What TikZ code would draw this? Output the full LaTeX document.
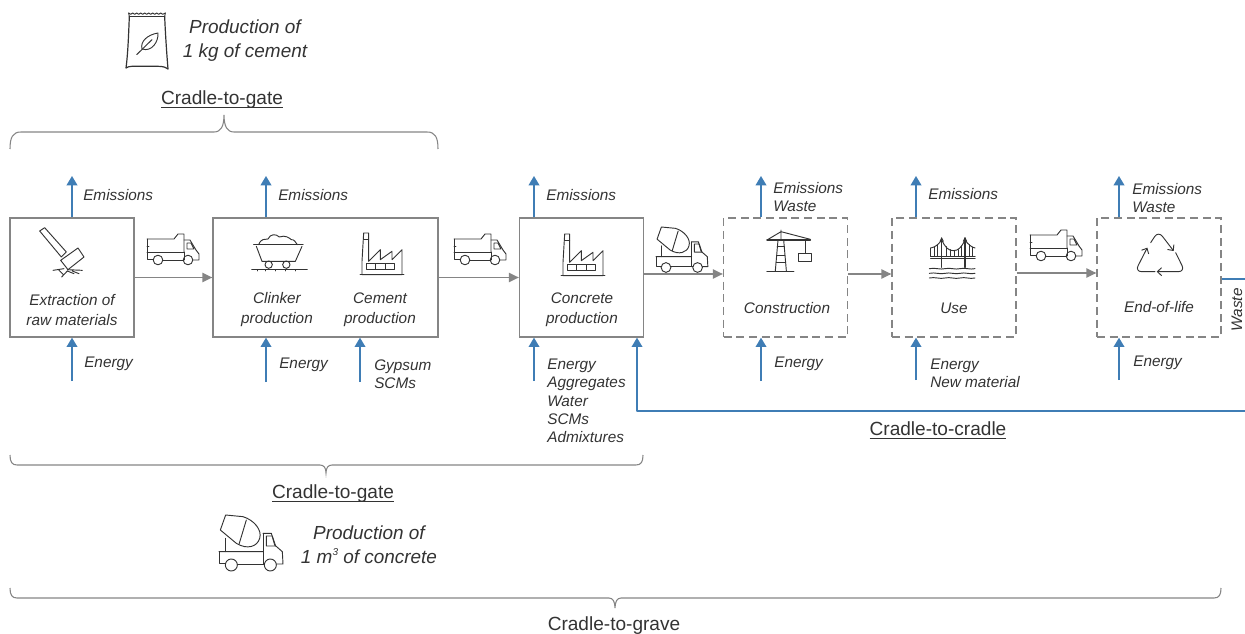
\documentclass[tikz,border=0pt]{standalone}
\usepackage{fontspec}
\setmainfont{Liberation Sans}
\usetikzlibrary{arrows.meta}
\definecolor{boxgray}{HTML}{858585}
\definecolor{flowblue}{HTML}{3F7DB5}
\definecolor{ink}{HTML}{333333}
\newcommand\ulabel[1]{\setbox0\hbox{#1}\rlap{\rule[-2.4pt]{\wd0}{0.6pt}}\box0}
\newcommand\supthree{\raisebox{0.45em}{\fontsize{7.5}{8}\selectfont 3}}
\tikzset{
  x=0.75pt,y=-0.75pt,
  procbox/.style={draw=boxgray,line width=1pt,minimum width=0pt,minimum height=0pt,inner sep=0pt,fill=none},
  dashbox/.style={procbox,dash pattern=on 6pt off 3.5pt},
  flow/.style={draw=boxgray,line width=1pt,-{Triangle[length=7.5pt,width=7pt]}},
  bluearrow/.style={draw=flowblue,line width=1.2pt,-{Triangle[length=7pt,width=8pt]}},
  side/.style={font=\itshape\fontsize{11.5}{13.8}\selectfont,text=ink,anchor=west,align=left,inner sep=0pt},
  inbox/.style={font=\itshape\fontsize{11.5}{15}\selectfont,text=ink,align=center,inner sep=0pt},
  big/.style={font=\itshape\fontsize{14.2}{18}\selectfont,text=ink,align=center,inner sep=0pt},
  scopelabel/.style={font=\fontsize{14.3}{16}\selectfont,text=ink,inner sep=0pt},
  brace/.style={draw=boxgray,line width=0.8pt},
  icon/.style={draw=ink,line width=0.7pt,line join=round,line cap=round},
  dumptruck/.pic={
    \draw[icon] (0,5)--(27,5)--(31,0)--(37,0)--(37,18);
    \draw[icon] (0,5)--(0,25)--(6,25);
    \draw[icon] (0,12)--(2,12) (0,18)--(37,18);
    \draw[icon] (37,6)--(43,6)--(49,16)--(52,20)--(52,26)--(46,26);
    \draw[icon] (37,18)--(37,26);
    \draw[icon] (40,9)--(44,9)--(47,15)--(40,15)--cycle;
    \draw[icon] (16,26)--(36,26);
    \draw[icon] (11,26) circle[radius=4.8];
    \draw[icon] (41,26) circle[radius=4.8];
  },
  mixer/.pic={
    \draw[icon] (4,45)--(20,0)--(72,5) .. controls (105,15) and (130,45) .. (122,70) .. controls (115,95) and (85,105) .. (52,85)--cycle;
    \draw[icon] (82,15)--(60,88);
    \draw[icon] (20,70)--(20,110);
    \draw[icon] (0,110)--(132,110) (132,55)--(157,55)--(167,90)--(190,110)--(192,147)--(172,147);
    \draw[icon] (132,55)--(132,147);
    \draw[icon] (0,110)--(0,145)--(20,145);
    \draw[icon] (55,147)--(136,147);
    \draw[icon] (142,63)--(160,63)--(170,93)--(142,93)--cycle;
    \draw[icon] (37,150) circle[radius=18];
    \draw[icon] (154,150) circle[radius=18];
  },
  factory/.pic={
    \draw[icon] (5,0)--(20,0)--(20,85)--(55,50)--(55,80)--(90,55)--(90,80)--(120,50)--(120,125)--(0,125)--(0,85)--cycle;
    \draw[icon] (5,20)--(20,20);
    \draw[icon] (13,92) rectangle (98,108);
    \draw[icon] (40,92)--(40,108) (70,92)--(70,108);
    \draw[icon] (-6,125)--(126,125);
  },
  hammer/.pic={
    \draw[icon] (2,12)--(17,2)--(82,75)--(67,90)--cycle;
    \draw[icon] (65,100)--(117,63)--(135,90)--(87,128)--cycle;
    \draw[icon] (42,130)--(75,125) (85,128)--(130,130) (68,150)--(85,132)--(105,140) (60,130)--(72,142) (100,132)--(120,140);
  },
  cart/.pic={
    \draw[icon,line width=1pt] (5,35)--(153,35);
    \draw[icon] (13,40)--(30,85)--(130,85)--(150,40);
    \draw[icon] (20,35) .. controls (28,15) and (38,20) .. (48,18) .. controls (55,2) and (72,2) .. (82,12) .. controls (100,5) and (112,15) .. (118,20) .. controls (125,18) and (132,28) .. (136,35);
    \draw[icon] (50,95) circle[radius=11];
    \draw[icon] (103,95) circle[radius=11];
    \draw[icon,line width=1.2pt] (0,110)--(165,110);
    \draw[icon] (15,110)--(15,114) (40,110)--(40,114) (70,110)--(70,114) (100,110)--(100,114) (130,110)--(130,114);
  },
  crane/.pic={
    \draw[icon,line width=1pt] (0,30)--(130,30);
    \draw[icon] (0,30)--(42,5)--(130,28) (42,0)--(42,30);
    \draw[icon] (33,30)--(25,122) (50,30)--(58,122);
    \draw[icon] (31,50)--(52,50) (29,75)--(54,75) (27,98)--(56,98);
    \draw[icon,line width=1.1pt] (0,125)--(80,125);
    \draw[icon] (115,30)--(115,70);
    \draw[icon] (95,70) rectangle (132,93);
  },
  bridge/.pic={
    \draw[icon,line width=1.1pt] (35,0)--(35,88) (105,0)--(105,88);
    \draw[icon] (30,10)--(35,0)--(40,10) (100,10)--(105,0)--(110,10);
    \draw[icon,line width=1pt] (2,55)--(135,55) (2,62)--(135,62);
    \draw[icon] (2,30) .. controls (15,28) and (28,18) .. (35,5) .. controls (45,28) and (55,38) .. (70,38) .. controls (85,38) and (95,28) .. (105,5) .. controls (112,18) and (125,28) .. (135,30);
    \draw[icon] (2,30)--(2,55) (12,27)--(12,55) (22,20)--(22,55) (48,26)--(48,55) (60,35)--(60,55) (72,38)--(72,55) (84,35)--(84,55) (94,24)--(94,55) (118,20)--(118,55) (128,27)--(128,55);
    \foreach \wy in {92,106,120} {
      \draw[icon] (-2,\wy) .. controls (15,\wy-4) and (30,\wy+4) .. (45,\wy) .. controls (60,\wy-4) and (75,\wy+4) .. (90,\wy) .. controls (105,\wy-4) and (120,\wy+4) .. (135,\wy);
    }
  },
  recycle/.pic={
    \begin{scope}[rounded corners=5pt]
      \draw[icon,-{Straight Barb[length=3.2pt,width=6pt]}] (60,122)--(0,122)--(37,50);
      \draw[icon,-{Straight Barb[length=3.2pt,width=6pt]}] (47,35)--(70,0)--(116,60);
      \draw[icon,-{Straight Barb[length=3.2pt,width=6pt]}] (122,65)--(150,122)--(65,122);
    \end{scope}
  },
  bag/.pic={
    \draw[icon,line width=0.9pt] (10,10) .. controls (8,60) and (6,120) .. (0,165) .. controls (10,158) and (20,160) .. (60,160) .. controls (95,160) and (115,158) .. (126,168) .. controls (122,120) and (118,60) .. (116,10);
    \draw[icon] (8,0)--(14,4)--(20,0)--(26,4)--(32,0)--(38,4)--(44,0)--(50,4)--(56,0)--(62,4)--(68,0)--(74,4)--(80,0)--(86,4)--(92,0)--(98,4)--(104,0)--(110,4)--(118,0);
    \draw[icon] (8,0)--(10,10) (118,0)--(116,10);
    \draw[icon] (10,11)--(116,11);
    \draw[icon] (48,108) .. controls (42,85) and (65,65) .. (96,60) .. controls (98,85) and (78,118) .. (48,108)--cycle;
    \draw[icon] (32,125)--(78,80);
  },
}
\begin{document}
\begin{tikzpicture}
\useasboundingbox (0,0) rectangle (1245,634);
\clip (0,0) rectangle (1245,634);
% process boxes
\node[procbox,minimum width=93pt,minimum height=89.25pt] (b1) at (72,277.5) {};
\node[procbox,minimum width=168.75pt,minimum height=89.25pt] (b2) at (325.5,277.5) {};
\node[procbox,minimum width=93pt,minimum height=89.25pt] (b3) at (581.5,277.5) {};
\node[dashbox,minimum width=93pt,minimum height=89.25pt] (b4) at (785.5,277.5) {};
\node[dashbox,minimum width=93pt,minimum height=89.25pt] (b5) at (954,277.5) {};
\node[dashbox,minimum width=93pt,minimum height=89.25pt] (b6) at (1159,277.5) {};
% box labels
\node[inbox] (t1) at (72,310) {Extraction of\\raw materials};
\node[inbox] (t2) at (277,310) {Clinker\\production};
\node[inbox] (t2b) at (380,310) {Cement\\production};
\node[inbox] (t3) at (582,310) {Concrete\\production};
\node[inbox] (t4) at (787,308) {Construction};
\node[inbox] (t5) at (954,308) {Use};
\node[inbox] (t6) at (1159,307) {End-of-life};
% gray flows
\coordinate (ya) at (0,274);
\coordinate (yb) at (0,273);
\draw[flow] (b1) -- (b2);
\draw[flow] (b2) -- (b3);
\draw[flow] (b3.east |- ya) -- (b4.west |- ya);
\draw[flow] (b4.east |- ya) -- (b5.west |- ya);
\draw[flow] (b5.east |- yb) -- (b6.west |- yb);
% emissions
\coordinate (e1) at (72,176);
\coordinate (e2) at (266,176);
\coordinate (e3) at (534,176);
\coordinate (e4) at (761,176);
\coordinate (e5) at (916,176);
\coordinate (e6) at (1119,176);
\draw[bluearrow] (b1.north -| e1) -- (e1);
\draw[bluearrow] (b2.north -| e2) -- (e2);
\draw[bluearrow] (b3.north -| e3) -- (e3);
\draw[bluearrow] (b4.north -| e4) -- (e4);
\draw[bluearrow] (b5.north -| e5) -- (e5);
\draw[bluearrow] (b6.north -| e6) -- (e6);
% inputs
\coordinate (i1) at (72,381);
\coordinate (i2) at (266,382);
\coordinate (i2b) at (360,382);
\coordinate (i3) at (534,381);
\coordinate (i4) at (761,381);
\coordinate (i5) at (916,380);
\coordinate (i6) at (1119,380);
\draw[bluearrow] (i1) -- (b1.south -| i1);
\draw[bluearrow] (i2) -- (b2.south -| i2);
\draw[bluearrow] (i2b) -- (b2.south -| i2b);
\draw[bluearrow] (i3) -- (b3.south -| i3);
\draw[bluearrow] (i4) -- (b4.south -| i4);
\draw[bluearrow] (i5) -- (b5.south -| i5);
\draw[bluearrow] (i6) -- (b6.south -| i6);
% waste return
\coordinate (rw) at (1246,279);
\coordinate (rr) at (1246,411);
\coordinate (r3) at (637,411);
\draw[bluearrow,line join=round] (b6.east |- rw) -- (rw) -- (rr) -- (r3) -- (b3.south -| r3);
% side labels
\node[side] (le1) at (83,195) {Emissions};
\node[side] (le2) at (278,195) {Emissions};
\node[side] (le3) at (546,195) {Emissions};
\node[side] (le4) at (773,197) {Emissions\\Waste};
\node[side] (le5) at (928,194) {Emissions};
\node[side] (le6) at (1132,198) {Emissions\\Waste};
\node[side] (li1) at (84,364) {Energy};
\node[side] (li2) at (279,365) {Energy};
\node[side] (li2b) at (374,374) {Gypsum\\SCMs};
\node[side] (li3) at (547,401) {Energy\\Aggregates\\Water\\SCMs\\Admixtures};
\node[side] (li4) at (774,364) {Energy};
\node[side] (li5) at (930,373) {Energy\\New material};
\node[side] (li6) at (1133,363) {Energy};
\node[side,rotate=90,anchor=center] (lw) at (1237,310) {Waste};
% braces
\draw[brace] (10,149) .. controls (10,137) and (13,132) .. (21,132) -- (214,132) .. controls (221,132) and (224,126) .. (224,115) .. controls (224,126) and (227,132) .. (234,132) -- (427,132) .. controls (435,132) and (438,137) .. (438,149);
\draw[brace] (10,455) .. controls (10,462) and (12,465) .. (17,465) -- (320,465) .. controls (324,465) and (326,468) .. (326,473) .. controls (326,468) and (328,465) .. (332,465) -- (636,465) .. controls (641,465) and (643,462) .. (643,455);
\draw[brace] (10,588) .. controls (10,595) and (12,598) .. (17,598) -- (609,598) .. controls (613,598) and (615,602) .. (615,608) .. controls (615,602) and (617,598) .. (621,598) -- (1214,598) .. controls (1219,598) and (1221,595) .. (1221,588);
% scope labels
\node[scopelabel] (c1) at (222,100) {\ulabel{Cradle-to-gate}};
\node[scopelabel] (c2) at (333,494) {\ulabel{Cradle-to-gate}};
\node[scopelabel] (c3) at (938,430) {\ulabel{Cradle-to-cradle}};
\node[scopelabel] (c4) at (614,626) {Cradle-to-grave};
\node[big] (p1) at (245,41) {Production of\\1 kg of cement};
\node[big] (p2) at (369,545) {Production of\\1 m\supthree{} of concrete};
% icons
\pic[scale=1/3] at (126,13) {bag};
\pic[scale=1/3] at (39,227) {hammer};
\pic at (147,234) {dumptruck};
\pic[scale=1/3] at (252,233) {cart};
\pic[scale=1/3] at (362,233) {factory};
\pic at (454,234) {dumptruck};
\pic[scale=1/3] at (563,234) {factory};
\pic[scale=0.27] at (656,227) {mixer};
\pic[scale=1/3] at (767,230) {crane};
\pic[scale=1/3] at (930,238) {bridge};
\pic[scale=1/3] at (1135,231) {recycle};
\pic at (1030,230) {dumptruck};
\pic[scale=1/3] at (219,515) {mixer};
\end{tikzpicture}
\end{document}
